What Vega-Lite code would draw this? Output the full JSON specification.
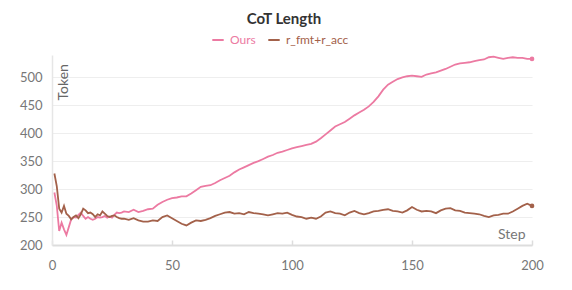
{
  "$schema": "https://vega.github.io/schema/vega-lite/v6.json",
  "width": 480,
  "height": 190,
  "autosize": {"type": "none"},
  "padding": {"left": 52, "top": 55, "right": 40, "bottom": 45},
  "background": "white",
  "config": {"font": "Lato", "view": {"stroke": null}},
  "title": {"text": "CoT Length", "anchor": "middle", "fontSize": 15, "fontWeight": "bold", "color": "#333333", "offset": 6, "dx": -8, "font": "Lato"},
  "data": {"values": [
{"run":"Ours","step":1,"value":294},{"run":"Ours","step":2,"value":270},{"run":"Ours","step":3,"value":225},{"run":"Ours","step":4,"value":240},{"run":"Ours","step":5,"value":228},{"run":"Ours","step":6,"value":218},{"run":"Ours","step":7,"value":232},{"run":"Ours","step":8,"value":246},{"run":"Ours","step":9,"value":250},{"run":"Ours","step":10,"value":249},{"run":"Ours","step":11,"value":254},{"run":"Ours","step":12,"value":258},{"run":"Ours","step":13,"value":252},{"run":"Ours","step":14,"value":247},{"run":"Ours","step":15,"value":250},{"run":"Ours","step":16,"value":247},{"run":"Ours","step":17,"value":245},{"run":"Ours","step":18,"value":247},{"run":"Ours","step":19,"value":250},{"run":"Ours","step":20,"value":249},{"run":"Ours","step":21,"value":250},{"run":"Ours","step":22,"value":252},{"run":"Ours","step":23,"value":249},{"run":"Ours","step":24,"value":251},{"run":"Ours","step":25,"value":249},{"run":"Ours","step":26,"value":254},{"run":"Ours","step":27,"value":258},{"run":"Ours","step":28,"value":257},{"run":"Ours","step":29,"value":258},{"run":"Ours","step":30,"value":260},
{"run":"Ours","step":32,"value":259},{"run":"Ours","step":34,"value":263},{"run":"Ours","step":36,"value":259},{"run":"Ours","step":38,"value":261},{"run":"Ours","step":40,"value":264},{"run":"Ours","step":42,"value":265},{"run":"Ours","step":44,"value":272},{"run":"Ours","step":46,"value":277},{"run":"Ours","step":48,"value":281},{"run":"Ours","step":50,"value":284},{"run":"Ours","step":52,"value":285},{"run":"Ours","step":54,"value":287},{"run":"Ours","step":56,"value":287},{"run":"Ours","step":58,"value":292},{"run":"Ours","step":60,"value":298},{"run":"Ours","step":62,"value":304},{"run":"Ours","step":64,"value":306},{"run":"Ours","step":66,"value":307},{"run":"Ours","step":68,"value":311},{"run":"Ours","step":70,"value":316},{"run":"Ours","step":72,"value":320},{"run":"Ours","step":74,"value":324},{"run":"Ours","step":76,"value":330},{"run":"Ours","step":78,"value":335},{"run":"Ours","step":80,"value":339},{"run":"Ours","step":82,"value":343},{"run":"Ours","step":84,"value":347},{"run":"Ours","step":86,"value":350},{"run":"Ours","step":88,"value":354},{"run":"Ours","step":90,"value":358},{"run":"Ours","step":92,"value":361},{"run":"Ours","step":94,"value":365},{"run":"Ours","step":96,"value":367},{"run":"Ours","step":98,"value":370},{"run":"Ours","step":100,"value":373},{"run":"Ours","step":102,"value":375},{"run":"Ours","step":104,"value":377},{"run":"Ours","step":106,"value":379},{"run":"Ours","step":108,"value":381},{"run":"Ours","step":110,"value":385},{"run":"Ours","step":112,"value":391},{"run":"Ours","step":114,"value":398},{"run":"Ours","step":116,"value":405},{"run":"Ours","step":118,"value":412},{"run":"Ours","step":120,"value":416},{"run":"Ours","step":122,"value":420},{"run":"Ours","step":124,"value":426},{"run":"Ours","step":126,"value":432},{"run":"Ours","step":128,"value":437},{"run":"Ours","step":130,"value":442},{"run":"Ours","step":132,"value":448},{"run":"Ours","step":134,"value":456},{"run":"Ours","step":136,"value":466},{"run":"Ours","step":138,"value":478},{"run":"Ours","step":140,"value":487},{"run":"Ours","step":142,"value":492},{"run":"Ours","step":144,"value":497},{"run":"Ours","step":146,"value":500},{"run":"Ours","step":148,"value":502},{"run":"Ours","step":150,"value":503},{"run":"Ours","step":152,"value":502},{"run":"Ours","step":154,"value":501},{"run":"Ours","step":156,"value":505},{"run":"Ours","step":158,"value":507},{"run":"Ours","step":160,"value":509},{"run":"Ours","step":162,"value":512},{"run":"Ours","step":164,"value":515},{"run":"Ours","step":166,"value":519},{"run":"Ours","step":168,"value":523},{"run":"Ours","step":170,"value":525},{"run":"Ours","step":172,"value":526},{"run":"Ours","step":174,"value":527},{"run":"Ours","step":176,"value":529},{"run":"Ours","step":178,"value":531},{"run":"Ours","step":180,"value":532},{"run":"Ours","step":182,"value":536},{"run":"Ours","step":184,"value":537},{"run":"Ours","step":186,"value":535},{"run":"Ours","step":188,"value":533},{"run":"Ours","step":190,"value":535},{"run":"Ours","step":192,"value":536},{"run":"Ours","step":194,"value":535},{"run":"Ours","step":196,"value":535},{"run":"Ours","step":198,"value":533},{"run":"Ours","step":200,"value":533},
{"run":"r_fmt+r_acc","step":1,"value":328},{"run":"r_fmt+r_acc","step":2,"value":305},{"run":"r_fmt+r_acc","step":3,"value":265},{"run":"r_fmt+r_acc","step":4,"value":258},{"run":"r_fmt+r_acc","step":5,"value":270},{"run":"r_fmt+r_acc","step":6,"value":256},{"run":"r_fmt+r_acc","step":7,"value":252},{"run":"r_fmt+r_acc","step":8,"value":246},{"run":"r_fmt+r_acc","step":9,"value":250},{"run":"r_fmt+r_acc","step":10,"value":253},{"run":"r_fmt+r_acc","step":11,"value":248},{"run":"r_fmt+r_acc","step":12,"value":255},{"run":"r_fmt+r_acc","step":13,"value":265},{"run":"r_fmt+r_acc","step":14,"value":262},{"run":"r_fmt+r_acc","step":15,"value":257},{"run":"r_fmt+r_acc","step":16,"value":258},{"run":"r_fmt+r_acc","step":17,"value":255},{"run":"r_fmt+r_acc","step":18,"value":250},{"run":"r_fmt+r_acc","step":19,"value":255},{"run":"r_fmt+r_acc","step":20,"value":253},{"run":"r_fmt+r_acc","step":21,"value":260},{"run":"r_fmt+r_acc","step":22,"value":256},{"run":"r_fmt+r_acc","step":23,"value":252},{"run":"r_fmt+r_acc","step":24,"value":250},{"run":"r_fmt+r_acc","step":25,"value":252},{"run":"r_fmt+r_acc","step":26,"value":253},{"run":"r_fmt+r_acc","step":27,"value":250},{"run":"r_fmt+r_acc","step":28,"value":248},{"run":"r_fmt+r_acc","step":29,"value":247},{"run":"r_fmt+r_acc","step":30,"value":247},
{"run":"r_fmt+r_acc","step":32,"value":245},{"run":"r_fmt+r_acc","step":34,"value":248},{"run":"r_fmt+r_acc","step":36,"value":244},{"run":"r_fmt+r_acc","step":38,"value":242},{"run":"r_fmt+r_acc","step":40,"value":242},{"run":"r_fmt+r_acc","step":42,"value":244},{"run":"r_fmt+r_acc","step":44,"value":243},{"run":"r_fmt+r_acc","step":46,"value":250},{"run":"r_fmt+r_acc","step":48,"value":253},{"run":"r_fmt+r_acc","step":50,"value":248},{"run":"r_fmt+r_acc","step":52,"value":243},{"run":"r_fmt+r_acc","step":54,"value":238},{"run":"r_fmt+r_acc","step":56,"value":235},{"run":"r_fmt+r_acc","step":58,"value":240},{"run":"r_fmt+r_acc","step":60,"value":244},{"run":"r_fmt+r_acc","step":62,"value":243},{"run":"r_fmt+r_acc","step":64,"value":245},{"run":"r_fmt+r_acc","step":66,"value":248},{"run":"r_fmt+r_acc","step":68,"value":252},{"run":"r_fmt+r_acc","step":70,"value":255},{"run":"r_fmt+r_acc","step":72,"value":258},{"run":"r_fmt+r_acc","step":74,"value":259},{"run":"r_fmt+r_acc","step":76,"value":256},{"run":"r_fmt+r_acc","step":78,"value":257},{"run":"r_fmt+r_acc","step":80,"value":255},{"run":"r_fmt+r_acc","step":82,"value":259},{"run":"r_fmt+r_acc","step":84,"value":257},{"run":"r_fmt+r_acc","step":86,"value":256},{"run":"r_fmt+r_acc","step":88,"value":255},{"run":"r_fmt+r_acc","step":90,"value":253},{"run":"r_fmt+r_acc","step":92,"value":255},{"run":"r_fmt+r_acc","step":94,"value":257},{"run":"r_fmt+r_acc","step":96,"value":256},{"run":"r_fmt+r_acc","step":98,"value":258},{"run":"r_fmt+r_acc","step":100,"value":254},{"run":"r_fmt+r_acc","step":102,"value":251},{"run":"r_fmt+r_acc","step":104,"value":250},{"run":"r_fmt+r_acc","step":106,"value":247},{"run":"r_fmt+r_acc","step":108,"value":249},{"run":"r_fmt+r_acc","step":110,"value":247},{"run":"r_fmt+r_acc","step":112,"value":251},{"run":"r_fmt+r_acc","step":114,"value":258},{"run":"r_fmt+r_acc","step":116,"value":260},{"run":"r_fmt+r_acc","step":118,"value":257},{"run":"r_fmt+r_acc","step":120,"value":256},{"run":"r_fmt+r_acc","step":122,"value":253},{"run":"r_fmt+r_acc","step":124,"value":258},{"run":"r_fmt+r_acc","step":126,"value":261},{"run":"r_fmt+r_acc","step":128,"value":257},{"run":"r_fmt+r_acc","step":130,"value":255},{"run":"r_fmt+r_acc","step":132,"value":257},{"run":"r_fmt+r_acc","step":134,"value":260},{"run":"r_fmt+r_acc","step":136,"value":261},{"run":"r_fmt+r_acc","step":138,"value":263},{"run":"r_fmt+r_acc","step":140,"value":264},{"run":"r_fmt+r_acc","step":142,"value":261},{"run":"r_fmt+r_acc","step":144,"value":260},{"run":"r_fmt+r_acc","step":146,"value":258},{"run":"r_fmt+r_acc","step":148,"value":262},{"run":"r_fmt+r_acc","step":150,"value":268},{"run":"r_fmt+r_acc","step":152,"value":263},{"run":"r_fmt+r_acc","step":154,"value":260},{"run":"r_fmt+r_acc","step":156,"value":261},{"run":"r_fmt+r_acc","step":158,"value":260},{"run":"r_fmt+r_acc","step":160,"value":257},{"run":"r_fmt+r_acc","step":162,"value":262},{"run":"r_fmt+r_acc","step":164,"value":265},{"run":"r_fmt+r_acc","step":166,"value":266},{"run":"r_fmt+r_acc","step":168,"value":262},{"run":"r_fmt+r_acc","step":170,"value":261},{"run":"r_fmt+r_acc","step":172,"value":258},{"run":"r_fmt+r_acc","step":174,"value":257},{"run":"r_fmt+r_acc","step":176,"value":256},{"run":"r_fmt+r_acc","step":178,"value":255},{"run":"r_fmt+r_acc","step":180,"value":252},{"run":"r_fmt+r_acc","step":182,"value":250},{"run":"r_fmt+r_acc","step":184,"value":253},{"run":"r_fmt+r_acc","step":186,"value":254},{"run":"r_fmt+r_acc","step":188,"value":256},{"run":"r_fmt+r_acc","step":190,"value":256},{"run":"r_fmt+r_acc","step":192,"value":260},{"run":"r_fmt+r_acc","step":194,"value":265},{"run":"r_fmt+r_acc","step":196,"value":270},{"run":"r_fmt+r_acc","step":198,"value":274},{"run":"r_fmt+r_acc","step":200,"value":270}
  ]},
  "encoding": {
    "x": {"field": "step", "type": "quantitative",
      "scale": {"domain": [0, 200], "nice": false, "zero": false},
      "axis": {"values": [0, 50, 100, 150, 200], "title": "Step", "titleX": 473, "titleY": -4, "titleAlign": "right", "titleBaseline": "bottom", "titleFontSize": 14, "titleFontWeight": "normal", "titleColor": "#777777",
        "labelFontSize": 13, "labelColor": "#777777", "labelPadding": 19, "labelFlush": false,
        "grid": false, "domainColor": "#dddddd", "domainWidth": 2, "tickColor": "#dddddd", "tickSize": -5, "tickWidth": 1.5}},
    "y": {"field": "value", "type": "quantitative",
      "scale": {"domain": [200, 540], "nice": false, "zero": false},
      "axis": {"values": [200, 250, 300, 350, 400, 450, 500], "title": "Token", "titleAngle": -90, "titleX": 4, "titleY": 45, "titleAlign": "left", "titleBaseline": "top", "titleFontSize": 14, "titleFontWeight": "normal", "titleColor": "#666666",
        "labelFontSize": 13, "labelColor": "#777777", "labelPadding": 10,
        "grid": true, "gridColor": "#eeeeee", "gridWidth": 1.2, "domainColor": "#e6e6e6", "domainWidth": 1.5, "ticks": false}},
    "color": {"field": "run", "type": "nominal",
      "scale": {"domain": ["Ours", "r_fmt+r_acc"], "range": ["#EC7AA2", "#A3614A"]},
      "legend": {"orient": "none", "legendX": 159, "legendY": -22, "direction": "horizontal", "title": null,
        "symbolType": "stroke", "symbolSize": 130, "symbolStrokeWidth": 2, "labelFontSize": 12, "columnPadding": 8, "labelOffset": 5,
        "encode": {"labels": {"update": {"fill": {"scale": "color", "field": "value"}}}}}}
  },
  "layer": [
    {"mark": {"type": "line", "strokeWidth": 1.8, "interpolate": "linear"}},
    {"transform": [{"filter": "datum.step == 200"}], "mark": {"type": "circle", "size": 22, "opacity": 1}}
  ]
}
